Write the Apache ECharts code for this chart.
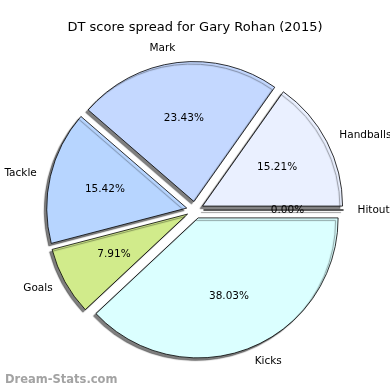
<!DOCTYPE html>
<html>
<head>
<meta charset="utf-8">
<script src="https://cdn.jsdelivr.net/npm/echarts@6/dist/echarts.min.js"></script>
<style>html,body{margin:0;padding:0;background:#fff}#c{width:390px;height:390px}</style>
</head>
<body>
<div id="c"></div>
<script>
const categories = ['Handballs', 'Mark', 'Tackle', 'Goals', 'Kicks', 'Hitout'];
const percents = [15.21, 23.43, 15.42, 7.91, 38.03, 0.00];
const sliceColors = ['#EAF0FF', '#C4D8FF', '#B7D5FF', '#D1EB8B', '#DBFFFF', '#F0F0F0'];
const titleText = 'DT score spread for Gary Rohan (2015)';
const watermark = 'Dream-Stats.com';

const R = 140;
const CENTER = [195, 210];
const OFFSET = 8.5;
const FONT = 'DejaVu Sans';

const sliceData = categories.map((name, i) => ({
  name: name, value: percents[i], selected: true,
  itemStyle: { color: sliceColors[i] }
}));
const pctData = categories.map((name, i) => ({
  name: name, value: percents[i], selected: true
}));

const chart = echarts.init(document.getElementById('c'), null, { renderer: 'canvas' });
chart.setOption({
  animation: false,
  backgroundColor: '#ffffff',
  title: [
    { text: titleText, left: 'center', top: 16,
      textStyle: { fontFamily: FONT, fontSize: 13, fontWeight: 'normal', color: '#000' } },
    { text: watermark, left: 0, top: 369,
      textStyle: { fontFamily: FONT, fontSize: 11.5, fontWeight: 'bold', color: '#a3a3a3' } }
  ],
  series: [
    {
      type: 'pie',
      center: CENTER,
      radius: [0, R],
      startAngle: 0,
      clockwise: false,
      selectedMode: 'multiple',
      selectedOffset: OFFSET,
      avoidLabelOverlap: false,
      minAngle: 0,
      stillShowZeroSum: true,
      emphasis: { disabled: true },
      select: { itemStyle: { borderColor: '#000', borderWidth: 0.8 } },
      itemStyle: {
        borderColor: '#000', borderWidth: 0.8,
        shadowColor: 'rgba(0,0,0,0.5)', shadowBlur: 1, shadowOffsetX: -2.5, shadowOffsetY: 2.5
      },
      label: {
        show: true, position: 'outside', distanceToLabelLine: 0,
        fontFamily: FONT, fontSize: 10.5, color: '#000',
        padding: [2, 0, 0, 0],
        formatter: '{b}'
      },
      labelLine: { show: false, length: R * 0.1, length2: 0 },
      data: sliceData
    },
    {
      type: 'pie',
      center: CENTER,
      radius: [22, R],
      startAngle: 0,
      clockwise: false,
      selectedMode: 'multiple',
      selectedOffset: OFFSET,
      avoidLabelOverlap: false,
      silent: true,
      emphasis: { disabled: true },
      itemStyle: { color: 'rgba(0,0,0,0)', borderWidth: 0 },
      select: { itemStyle: { color: 'rgba(0,0,0,0)', borderWidth: 0 } },
      label: {
        show: true, position: 'inside',
        fontFamily: FONT, fontSize: 10.5, color: '#000',
        formatter: p => p.value.toFixed(2) + '%'
      },
      labelLine: { show: false },
      data: pctData
    }
  ]
});
</script>
</body>
</html>
